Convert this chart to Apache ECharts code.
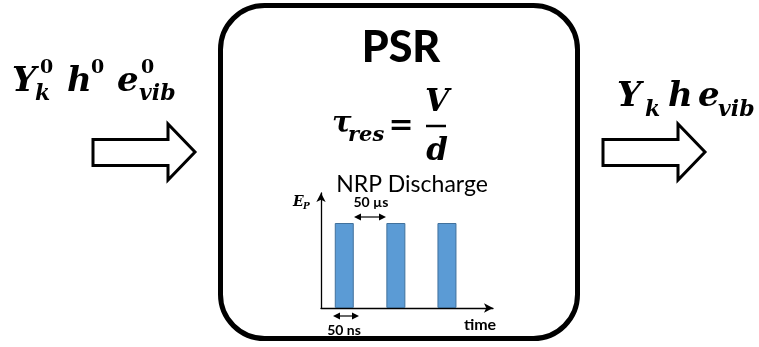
<!DOCTYPE html>
<html>
<head>
<meta charset="utf-8">
<script src="https://cdn.jsdelivr.net/npm/echarts@6/dist/echarts.min.js"></script>
<style>html,body{margin:0;padding:0;background:#fff;}#c{width:759px;height:347px;}</style>
</head>
<body>
<div id="c"></div>
<script>
// ---- data ----
const pulseTimes = [0.46, 1.48, 2.49];   // pulse positions along time axis (period units)
const pulseEnergy = [1, 1, 1];           // pulse energy E_P (relative)
const titleText = 'PSR';
const subTitleText = 'NRP Discharge';
const periodLabel = '50 µs';
const widthLabel = '50 ns';
const xAxisLabel = 'time';

const MATH = '"DejaVu Serif", serif';
const SANS = 'Lato, "Open Sans", sans-serif';

function T(text, x, base, size, opt) {
  opt = opt || {};
  return {
    type: 'text', z: 20, x: x, y: base - size * 0.33,
    style: {
      text: text, fontSize: size,
      fontFamily: opt.family || MATH,
      fontWeight: opt.weight || 'bold',
      fontStyle: opt.style || (opt.family ? 'normal' : 'italic'),
      fill: '#000', align: opt.align || 'left', verticalAlign: 'middle'
    }
  };
}
function blockArrow(x0) {
  const p = [[x0, 139.5], [x0 + 75, 139.5], [x0 + 75, 124], [x0 + 102, 152], [x0 + 75, 180], [x0 + 75, 165.5], [x0, 165.5]];
  return { type: 'polygon', z: 20, shape: { points: p }, style: { fill: '#fff', stroke: '#000', lineWidth: 3, lineJoin: 'miter' } };
}
function dblArrow(xa, xb, y) {
  return [
    { type: 'line', z: 20, shape: { x1: xa + 4, y1: y, x2: xb - 4, y2: y }, style: { stroke: '#000', lineWidth: 1.2 } },
    { type: 'polygon', z: 20, shape: { points: [[xa, y], [xa + 7, y - 3.5], [xa + 7, y + 3.5]] }, style: { fill: '#000' } },
    { type: 'polygon', z: 20, shape: { points: [[xb, y], [xb - 7, y - 3.5], [xb - 7, y + 3.5]] }, style: { fill: '#000' } }
  ];
}

const chart = echarts.init(document.getElementById('c'), null, { renderer: 'canvas' });
const UP = { style: 'normal' };
const elements = [
  { type: 'rect', z: 5, shape: { x: 220.5, y: 5.5, width: 357, height: 333, r: 44 }, style: { fill: 'none', stroke: '#000', lineWidth: 5 } },
  blockArrow(93),
  blockArrow(603),
  // left inputs
  T('Y', 12, 93, 34), T('0', 40, 74, 19, UP), T('k', 35, 102, 22),
  T('h', 67, 93, 34), T('0', 91, 74, 19, UP),
  T('e', 117, 93, 34), T('0', 141, 74, 19, UP), T('vib', 139, 102, 22),
  // right outputs
  T('Y', 617, 108, 34), T('k', 645, 118, 22),
  T('h', 668, 108, 34),
  T('e', 698, 108, 34), T('vib', 718, 118, 22),
  // title
  T(titleText, 401, 62, 43, { family: SANS, weight: 900, align: 'center' }),
  // residence time equation
  T('τ', 332, 134, 29), T('res', 348, 142, 21),
  T('=', 401, 136, 30, { family: MATH, align: 'center' }),
  T('V', 437, 113, 31, { align: 'center' }),
  { type: 'line', z: 20, shape: { x1: 426, y1: 126, x2: 446, y2: 126 }, style: { stroke: '#000', lineWidth: 2.5 } },
  T('d', 437, 162, 31, { align: 'center' }),
  // NRP discharge
  T(subTitleText, 412, 192, 23, { family: SANS, weight: 'normal', align: 'center' }),
  T('E', 293, 207, 14), T('P', 303, 210, 9),
  T(periodLabel, 371, 207, 14, { family: SANS, align: 'center' }),
  T(widthLabel, 344, 335, 14, { family: SANS, align: 'center' }),
  T(xAxisLabel, 480, 330, 16, { family: SANS, align: 'center' })
].concat(dblArrow(354, 386, 217), dblArrow(333, 359, 316));

chart.setOption({
  animation: false,
  backgroundColor: '#fff',
  grid: { left: 321, top: 193, width: 172, height: 115, containLabel: false },
  xAxis: {
    type: 'value', min: 0, max: 3.4,
    axisLine: { show: true, onZero: false, symbol: ['none', 'arrow'], symbolSize: [7, 9], lineStyle: { color: '#000', width: 1.3 } },
    axisTick: { show: false }, axisLabel: { show: false }, splitLine: { show: false }
  },
  yAxis: {
    type: 'value', min: 0, max: 1.353,
    axisLine: { show: true, symbol: ['none', 'arrow'], symbolSize: [7, 9], lineStyle: { color: '#000', width: 1.3 } },
    axisTick: { show: false }, axisLabel: { show: false }, splitLine: { show: false }
  },
  series: [{
    type: 'bar',
    barWidth: 19,
    data: pulseTimes.map((t, i) => [t, pulseEnergy[i]]),
    itemStyle: { color: '#5B9BD5', borderColor: '#41719C', borderWidth: 1 }
  }],
  graphic: { elements: elements }
});
</script>
</body>
</html>
